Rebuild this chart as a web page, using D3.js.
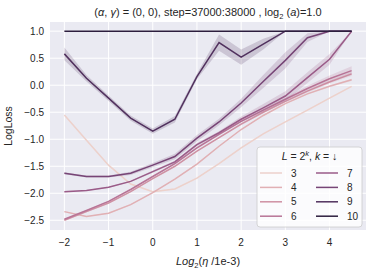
<!DOCTYPE html>
<html>
<head>
<meta charset="utf-8">
<script src="https://cdn.jsdelivr.net/npm/d3@7"></script>
<style>
  body { margin: 0; background: #fff; }
  text { font-family: "Liberation Sans", Arial, sans-serif; fill: #262626; }
</style>
</head>
<body>
<svg></svg>
<script>
// x values: log2(eta / 1e-3)
const etaLog2 = [-2, -1.5, -1, -0.5, 0, 0.5, 1, 1.5, 2, 2.5, 3, 3.5, 4, 4.5];
const kValues = [3, 4, 5, 6, 7, 8, 9, 10];
const xTicks = [-2, -1, 0, 1, 2, 3, 4];
const yTicks = [-2.5, -2.0, -1.5, -1.0, -0.5, 0.0, 0.5, 1.0];

// mean LogLoss per k
const loss3  = [-0.55, -1.02, -1.48, -1.83, -1.97, -1.92, -1.72, -1.45, -1.16, -0.90, -0.68, -0.46, -0.24, -0.02];
const loss4  = [-2.34, -2.43, -2.37, -2.21, -1.99, -1.74, -1.46, -1.13, -0.82, -0.56, -0.34, -0.16, -0.02, 0.10];
const loss5  = [-2.50, -2.34, -2.18, -1.97, -1.73, -1.50, -1.22, -0.97, -0.72, -0.50, -0.30, -0.11, 0.06, 0.21];
const loss6  = [-2.48, -2.32, -2.15, -1.93, -1.69, -1.45, -1.16, -0.91, -0.67, -0.46, -0.26, -0.06, 0.12, 0.27];
const loss7  = [-1.97, -1.95, -1.89, -1.78, -1.60, -1.42, -1.10, -0.88, -0.63, -0.42, -0.20, 0.14, 0.48, 1.0];
const loss8  = [-1.63, -1.69, -1.69, -1.63, -1.48, -1.32, -0.98, -0.68, -0.33, 0.07, 0.46, 0.88, 1.0, 1.0];
const loss9  = [0.58, 0.13, -0.24, -0.61, -0.85, -0.63, 0.16, 0.79, 0.52, 0.76, 1.0, 1.0, 1.0, 1.0];
const loss10 = [1.0, 1.0, 1.0, 1.0, 1.0, 1.0, 1.0, 1.0, 1.0, 1.0, 1.0, 1.0, 1.0, 1.0];

// half width of the 95% CI band
const ci3  = [0.01, 0.01, 0.01, 0.01, 0.01, 0.01, 0.01, 0.01, 0.01, 0.01, 0.01, 0.01, 0.01, 0.01];
const ci4  = [0.01, 0.01, 0.01, 0.01, 0.01, 0.01, 0.01, 0.01, 0.01, 0.01, 0.01, 0.01, 0.02, 0.02];
const ci5  = [0.01, 0.01, 0.01, 0.01, 0.01, 0.01, 0.01, 0.01, 0.02, 0.02, 0.02, 0.03, 0.03, 0.04];
const ci6  = [0.01, 0.01, 0.01, 0.01, 0.01, 0.02, 0.02, 0.02, 0.02, 0.03, 0.03, 0.05, 0.06, 0.08];
const ci7  = [0.01, 0.01, 0.01, 0.01, 0.02, 0.02, 0.03, 0.03, 0.05, 0.07, 0.09, 0.10, 0.10, 0];
const ci8  = [0.02, 0.02, 0.02, 0.03, 0.04, 0.05, 0.06, 0.06, 0.08, 0.12, 0.15, 0.08, 0, 0];
const ci9  = [0.12, 0.06, 0.05, 0.05, 0.05, 0.06, 0.05, 0.15, 0.14, 0.10, 0, 0, 0, 0];
const ci10 = [0, 0, 0, 0, 0, 0, 0, 0, 0, 0, 0, 0, 0, 0];

const lossByK = [loss3, loss4, loss5, loss6, loss7, loss8, loss9, loss10];
const ciByK = [ci3, ci4, ci5, ci6, ci7, ci8, ci9, ci10];

const width = 373, height = 273;
const margin = { left: 50, right: 7, top: 22, bottom: 43 };

const svg = d3.select("svg").attr("width", width).attr("height", height);

const x = d3.scaleLinear().domain([-2.325, 4.825]).range([margin.left, width - margin.right]);
const y = d3.scaleLinear().domain([-2.68, 1.17]).range([height - margin.bottom, margin.top]);

// seaborn default cubehelix ramp (light -> dark)
function cubehelix(t) {
    const v = 0.85 - 0.7 * t;
    const a = 0.8 * v * (1 - v) / 2;
    const phi = 2 * Math.PI * (0.4 * v);
    const c = Math.cos(phi), s = Math.sin(phi);
    const cl = u => Math.round(255 * Math.max(0, Math.min(1, u)));
    const r = v + a * (-0.14861 * c + 1.78277 * s);
    const g = v + a * (-0.29227 * c - 0.90649 * s);
    const b = v + a * (1.97294 * c);
    return d3.rgb(cl(r), cl(g), cl(b)).formatHex();
}
const color = k => cubehelix((k - 3) / 7);

// background
svg.append("rect")
    .attr("x", margin.left).attr("y", margin.top)
    .attr("width", width - margin.left - margin.right)
    .attr("height", height - margin.top - margin.bottom)
    .attr("fill", "#eaeaf2");

// grid
svg.append("g").selectAll("line").data(xTicks).enter().append("line")
    .attr("x1", d => x(d)).attr("x2", d => x(d))
    .attr("y1", margin.top).attr("y2", height - margin.bottom)
    .attr("stroke", "#fff").attr("stroke-width", 1);
svg.append("g").selectAll("line").data(yTicks).enter().append("line")
    .attr("y1", d => y(d)).attr("y2", d => y(d))
    .attr("x1", margin.left).attr("x2", width - margin.right)
    .attr("stroke", "#fff").attr("stroke-width", 1);

// tick labels
const fmtMinus = s => s.replace("-", "\u2212");
svg.append("g").selectAll("text").data(xTicks).enter().append("text")
    .attr("x", d => x(d)).attr("y", height - margin.bottom + 16)
    .attr("text-anchor", "middle").attr("font-size", 10)
    .text(d => fmtMinus(d3.format("d")(d)));
svg.append("g").selectAll("text").data(yTicks).enter().append("text")
    .attr("x", margin.left - 6).attr("y", d => y(d) + 3.5)
    .attr("text-anchor", "end").attr("font-size", 10)
    .text(d => fmtMinus(d3.format(".1f")(d)));

// series
const series = kValues.map((k, i) => ({
    k: k,
    pts: etaLog2.map((e, j) => ({ x: e, v: lossByK[i][j], c: ciByK[i][j] }))
}));

const band = d3.area()
    .x(d => x(d.x))
    .y0(d => y(d.v - d.c))
    .y1(d => y(d.v + d.c));
const line = d3.line().x(d => x(d.x)).y(d => y(d.v));

const plot = svg.append("g");
series.forEach(s => {
    plot.append("path").datum(s.pts)
        .attr("d", band)
        .attr("fill", color(s.k)).attr("fill-opacity", 0.2);
    plot.append("path").datum(s.pts)
        .attr("d", line)
        .attr("fill", "none")
        .attr("stroke", color(s.k)).attr("stroke-width", 1.5);
});

// title
const title = svg.append("text")
    .attr("x", (margin.left + width - margin.right) / 2).attr("y", 16)
    .attr("text-anchor", "middle").attr("font-size", 11);
title.append("tspan").text("(");
title.append("tspan").attr("font-style", "italic").text("\u03b1");
title.append("tspan").text(", ");
title.append("tspan").attr("font-style", "italic").text("\u03b3");
title.append("tspan").text(") = (0, 0), step=37000:38000 , log");
title.append("tspan").attr("font-size", 7.5).attr("dy", 2.5).text("2");
title.append("tspan").attr("dy", -2.5).text(" (");
title.append("tspan").attr("font-style", "italic").text("a");
title.append("tspan").text(")=1.0");

// axis labels
const xl = svg.append("text")
    .attr("x", (margin.left + width - margin.right) / 2).attr("y", 265)
    .attr("text-anchor", "middle").attr("font-size", 11);
xl.append("tspan").attr("font-style", "italic").text("Log");
xl.append("tspan").attr("font-size", 7.5).attr("dy", 2.5).text("2");
xl.append("tspan").attr("dy", -2.5).text("(");
xl.append("tspan").attr("font-style", "italic").text("\u03b7");
xl.append("tspan").text(" /1e-3)");

svg.append("text")
    .attr("transform", `translate(12,${(margin.top + height - margin.bottom) / 2}) rotate(-90)`)
    .attr("text-anchor", "middle").attr("font-size", 10.5)
    .text("LogLoss");

// legend
const lg = svg.append("g").attr("transform", "translate(257,147)");
lg.append("rect").attr("width", 105).attr("height", 80).attr("rx", 3)
    .attr("fill", "#fff").attr("fill-opacity", 0.8)
    .attr("stroke", "#cccccc").attr("stroke-width", 0.8);
const lt = lg.append("text").attr("x", 52.5).attr("y", 13)
    .attr("text-anchor", "middle").attr("font-size", 10.5);
lt.append("tspan").attr("font-style", "italic").text("L");
lt.append("tspan").text(" = 2");
lt.append("tspan").attr("font-style", "italic").attr("font-size", 7.5).attr("dy", -4).text("k");
lt.append("tspan").attr("dy", 4).text(", ");
lt.append("tspan").attr("font-style", "italic").text("k");
lt.append("tspan").text(" = \u2193");

const items = lg.selectAll("g.item").data(kValues).enter().append("g")
    .attr("transform", (d, i) => `translate(${i < 4 ? 3 : 59},${26 + (i % 4) * 14.4})`);
items.append("line")
    .attr("x1", 0).attr("x2", 22)
    .attr("stroke", d => color(d)).attr("stroke-width", 1.5);
items.append("text")
    .attr("x", 31).attr("y", 3.5).attr("font-size", 10)
    .text(d => d);
</script>
</body>
</html>
